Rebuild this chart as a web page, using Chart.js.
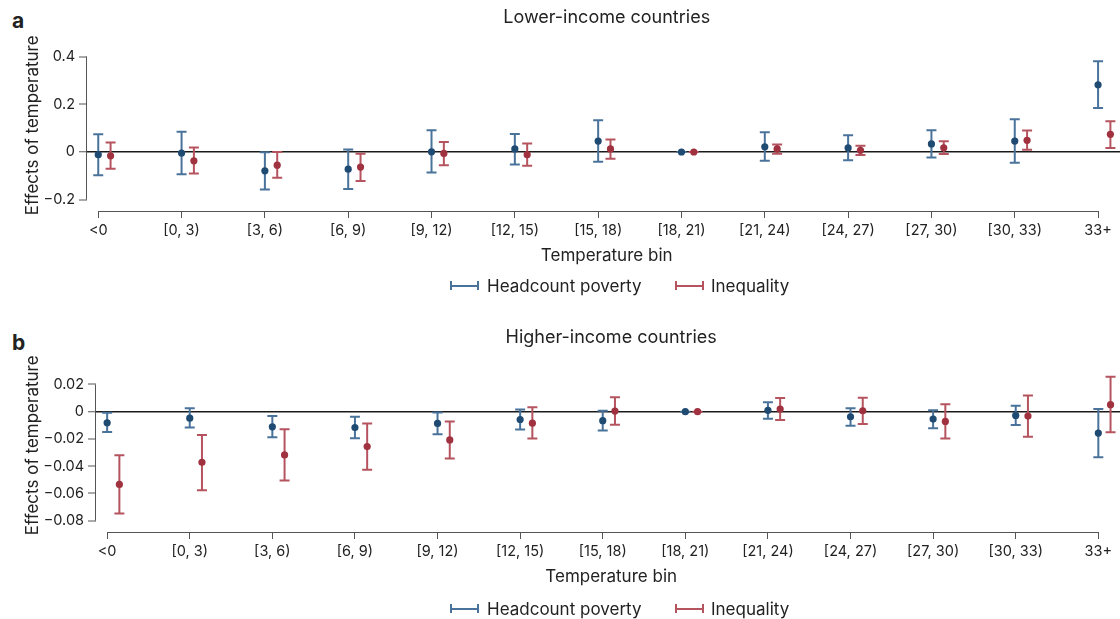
<!DOCTYPE html>
<html>
<head>
<meta charset="utf-8">
<title>Effects of temperature by income group</title>
<script src="https://cdn.jsdelivr.net/npm/chart.js@4.4.1/dist/chart.umd.min.js"></script>
<style>
  html, body { margin: 0; background: #fff; overflow: hidden; }
  #wrap { position: relative; width: 1120px; height: 619px; font-family: Inter, 'Noto Sans', sans-serif; color: #222; overflow: hidden; }
  #wrap canvas { position: absolute; left: 0; }
  .tag { position: absolute; left: 12px; font-weight: 700; font-size: 21px; line-height: 22px; }
  .legend { position: absolute; left: 0; width: 1120px; height: 20px; font-size: 17px; line-height: 20px; }
  .legend .txt { position: absolute; top: 0; white-space: nowrap; }
  .legend .sym { position: absolute; top: 5px; width: 25px; height: 9px; box-sizing: content-box; }
  .sym.pov { border-left: 2px solid #4a739b; border-right: 2px solid #4a739b;
             background: linear-gradient(#4a739b, #4a739b) center / 100% 2px no-repeat; }
  .sym.ineq { border-left: 2px solid #b5545f; border-right: 2px solid #b5545f;
              background: linear-gradient(#b5545f, #b5545f) center / 100% 2px no-repeat; }
</style>
</head>
<body>
<div id="wrap">
  <div class="tag" style="top:10px">a</div>
  <!-- the plot canvases run 10px past the visible frame on the right -->
  <canvas id="chartLow" width="1130" height="310" style="top:0"></canvas>
  <div class="legend" style="top:276px">
    <span class="sym pov" style="left:450px"></span><span class="txt" style="left:487px">Headcount poverty</span>
    <span class="sym ineq" style="left:675px"></span><span class="txt" style="left:711px">Inequality</span>
  </div>

  <div class="tag" style="top:332px">b</div>
  <canvas id="chartHigh" width="1130" height="309" style="top:310px"></canvas>
  <div class="legend" style="top:599px">
    <span class="sym pov" style="left:450px"></span><span class="txt" style="left:487px">Headcount poverty</span>
    <span class="sym ineq" style="left:675px"></span><span class="txt" style="left:711px">Inequality</span>
  </div>
</div>

<script>
// Temperature bins (°C) shared by both panels
const bins = ['<0', '[0, 3)', '[3, 6)', '[6, 9)', '[9, 12)', '[12, 15)', '[15, 18)',
              '[18, 21)', '[21, 24)', '[24, 27)', '[27, 30)', '[30, 33)', '33+'];

// Panel a: lower-income countries (estimate, lower and upper bound of the interval)
const povLowEst  = [-0.011, -0.004, -0.079, -0.072, 0.001, 0.013, 0.046, 0, 0.022, 0.017, 0.034, 0.046, 0.282];
const povLowLo   = [-0.097, -0.093, -0.157, -0.155, -0.086, -0.052, -0.041, 0, -0.037, -0.035, -0.023, -0.045, 0.184];
const povLowHi   = [0.074, 0.085, -0.001, 0.011, 0.091, 0.076, 0.133, 0, 0.083, 0.070, 0.091, 0.137, 0.380];
const ineqLowEst = [-0.016, -0.037, -0.055, -0.063, -0.006, -0.011, 0.013, 0, 0.013, 0.007, 0.018, 0.049, 0.074];
const ineqLowLo  = [-0.070, -0.090, -0.108, -0.121, -0.055, -0.058, -0.028, 0, -0.007, -0.013, -0.008, 0.010, 0.017];
const ineqLowHi  = [0.040, 0.019, 0.000, -0.007, 0.042, 0.036, 0.053, 0, 0.032, 0.026, 0.045, 0.090, 0.129];

// Panel b: higher-income countries
const povHighEst  = [-0.0081, -0.0047, -0.0111, -0.0116, -0.0086, -0.0057, -0.0066, 0, 0.0010, -0.0037, -0.0054, -0.0027, -0.0157];
const povHighLo   = [-0.0148, -0.0116, -0.0187, -0.0194, -0.0165, -0.0130, -0.0138, 0, -0.0052, -0.0103, -0.0121, -0.0098, -0.0334];
const povHighHi   = [-0.0007, 0.0025, -0.0032, -0.0037, -0.0005, 0.0017, 0.0007, 0, 0.0069, 0.0025, 0.0010, 0.0044, 0.0020];
const ineqHighEst = [-0.0534, -0.0371, -0.0317, -0.0256, -0.0207, -0.0084, 0.0005, 0, 0.0020, 0.0007, -0.0071, -0.0032, 0.0052];
const ineqHighLo  = [-0.0748, -0.0576, -0.0504, -0.0426, -0.0344, -0.0197, -0.0096, 0, -0.0061, -0.0091, -0.0197, -0.0184, -0.0150];
const ineqHighHi  = [-0.0320, -0.0170, -0.0128, -0.0086, -0.0071, 0.0032, 0.0106, 0, 0.0101, 0.0103, 0.0054, 0.0120, 0.0256];

// Y-axis tick values for each panel
const yTicksLow  = [-0.2, 0, 0.2, 0.4];
const yTicksHigh = [-0.08, -0.06, -0.04, -0.02, 0, 0.02];

const FONT = "Inter, 'Noto Sans', sans-serif";
const INK = '#222';
const AXIS = '#555';
const POV_LINE = '#4a739b', POV_DOT = '#1f4a72';
const INEQ_LINE = '#b5545f', INEQ_DOT = '#a0323f';
const INEQ_SHIFT = 0.148; // horizontal dodge of the inequality series within a bin

// Vertical interval with end caps, drawn under each point
const errorBars = {
  id: 'errorBars',
  beforeDatasetsDraw(chart) {
    const { ctx } = chart;
    const xs = chart.scales.x, ys = chart.scales.y;
    chart.data.datasets.forEach((ds, di) => {
      if (!chart.isDatasetVisible(di)) return;
      ctx.save();
      ctx.strokeStyle = ds.whiskerColor;
      ctx.lineWidth = 2;
      ds.data.forEach((p, i) => {
        const px = xs.getPixelForValue(p.x);
        const yl = ys.getPixelForValue(ds.lower[i]);
        const yh = ys.getPixelForValue(ds.upper[i]);
        ctx.beginPath();
        ctx.moveTo(px, yl); ctx.lineTo(px, yh);
        ctx.moveTo(px - 5, yl); ctx.lineTo(px + 5, yl);
        ctx.moveTo(px - 5, yh); ctx.lineTo(px + 5, yh);
        ctx.stroke();
      });
      ctx.restore();
    });
  }
};

// Axis lines that span only the first and last tick (detached axes)
const rangeAxes = {
  id: 'rangeAxes',
  beforeDatasetsDraw(chart) {
    const { ctx, chartArea } = chart;
    const xs = chart.scales.x, ys = chart.scales.y;
    const xt = xs.ticks, yt = ys.ticks;
    ctx.save();
    ctx.strokeStyle = AXIS;
    ctx.lineWidth = 1;
    ctx.beginPath();
    const ax = Math.round(chartArea.left) - 0.5;
    ctx.moveTo(ax, ys.getPixelForValue(yt[0].value));
    ctx.lineTo(ax, ys.getPixelForValue(yt[yt.length - 1].value));
    const ay = Math.round(chartArea.bottom) + 0.5;
    ctx.moveTo(xs.getPixelForValue(xt[0].value), ay);
    ctx.lineTo(xs.getPixelForValue(xt[xt.length - 1].value), ay);
    ctx.stroke();
    ctx.restore();
  }
};

function fmtTick(v, decimals) {
  if (Math.abs(v) < 1e-12) return '0';
  return (v < 0 ? '\u2212' : '') + Math.abs(v).toFixed(decimals);
}

function makePanel(id, opt) {
  const points = (vals, shift) => vals.map((v, i) => ({ x: i + shift, y: v }));
  return new Chart(document.getElementById(id), {
    type: 'scatter',
    data: {
      datasets: [
        { label: 'Headcount poverty', data: points(opt.pov[0], 0), lower: opt.pov[1], upper: opt.pov[2],
          whiskerColor: POV_LINE, backgroundColor: POV_DOT, borderWidth: 0, pointRadius: 3.6, pointHoverRadius: 3.6 },
        { label: 'Inequality', data: points(opt.ineq[0], INEQ_SHIFT), lower: opt.ineq[1], upper: opt.ineq[2],
          whiskerColor: INEQ_LINE, backgroundColor: INEQ_DOT, borderWidth: 0, pointRadius: 3.6, pointHoverRadius: 3.6 }
      ]
    },
    options: {
      responsive: false,
      devicePixelRatio: 1,
      animation: false,
      events: [],
      layout: { padding: { left: 0, right: 0, top: 0, bottom: opt.bottomPad } },
      plugins: {
        legend: { display: false },
        tooltip: { enabled: false },
        title: {
          display: true, text: opt.title, color: INK, fullSize: false,
          font: { family: FONT, size: 18, weight: 'normal' },
          padding: { top: opt.titleTop, bottom: opt.titleBottom }
        }
      },
      scales: {
        x: {
          type: 'linear', min: -0.135, max: 12.34,
          afterBuildTicks: s => { s.ticks = bins.map((_, i) => ({ value: i })); },
          afterFit: s => { s.height = 60; },
          ticks: { color: INK, font: { family: FONT, size: 14.5 }, padding: 4, maxRotation: 0, autoSkip: false,
                   callback: v => bins[Math.round(v)] },
          grid: { drawOnChartArea: false, drawTicks: true, tickLength: 7, tickColor: AXIS, tickWidth: 1 },
          border: { display: false },
          title: { display: true, text: 'Temperature bin', color: INK,
                   font: { family: FONT, size: 17 }, padding: { top: 0, bottom: 5 } }
        },
        y: {
          min: opt.yMin, max: opt.yMax,
          afterBuildTicks: s => { s.ticks = opt.yTicks.map(v => ({ value: v })); },
          afterFit: s => { s.width = opt.yWidth; },
          ticks: { color: INK, font: { family: FONT, size: 14.5 }, padding: 4,
                   callback: v => fmtTick(v, opt.decimals) },
          grid: {
            drawOnChartArea: true, drawTicks: true, tickLength: 8, tickColor: AXIS, tickWidth: 1,
            color: c => (c.tick && Math.abs(c.tick.value) < 1e-12) ? '#1a1a1a' : 'rgba(0,0,0,0)',
            lineWidth: c => (c.tick && Math.abs(c.tick.value) < 1e-12) ? 1.5 : 0
          },
          border: { display: false },
          title: { display: true, text: 'Effects of temperature', color: INK,
                   font: { family: FONT, size: 17 }, padding: { top: 23, bottom: 0 } }
        }
      }
    },
    plugins: [rangeAxes, errorBars]
  });
}

makePanel('chartLow', {
  title: 'Lower-income countries', titleTop: 7, titleBottom: 11,
  pov: [povLowEst, povLowLo, povLowHi], ineq: [ineqLowEst, ineqLowLo, ineqLowHi],
  yMin: -0.2472, yMax: 0.4712, yTicks: yTicksLow, decimals: 1, yWidth: 87, bottomPad: 39
});

makePanel('chartHigh', {
  title: 'Higher-income countries', titleTop: 17, titleBottom: 10,
  pov: [povHighEst, povHighLo, povHighHi], ineq: [ineqHighEst, ineqHighLo, ineqHighHi],
  yMin: -0.0883, yMax: 0.0390, yTicks: yTicksHigh, decimals: 2, yWidth: 96, bottomPad: 27
});
</script>
</body>
</html>
